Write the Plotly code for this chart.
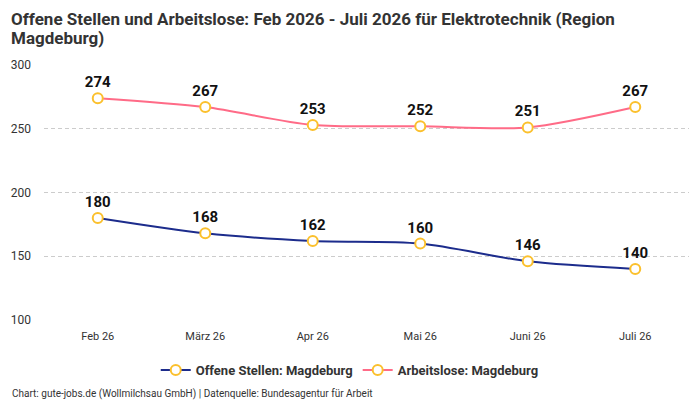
import plotly.graph_objects as go

# Monate und Werte
monate = ["Feb 26", "März 26", "Apr 26", "Mai 26", "Juni 26", "Juli 26"]
offene_stellen = [180, 168, 162, 160, 146, 140]
arbeitslose = [274, 267, 253, 252, 251, 267]

titel_zeilen = [
    "Offene Stellen und Arbeitslose: Feb 2026 - Juli 2026 für Elektrotechnik (Region",
    "Magdeburg)",
]
quelle = "Chart: gute-jobs.de (Wollmilchsau GmbH) | Datenquelle: Bundesagentur für Arbeit"

FONT = "Liberation Sans Narrow, Arial Narrow, Roboto"

fig = go.Figure()

fig.add_trace(go.Scatter(
    x=monate, y=offene_stellen,
    name="Offene Stellen: Magdeburg",
    mode="lines+markers+text",
    line=dict(color="#1c2c8c", width=2, shape="spline", smoothing=0.8),
    marker=dict(size=10, color="white", line=dict(color="#fbc02d", width=2)),
    text=[str(v) for v in offene_stellen],
    textposition="top center",
    textfont=dict(family=FONT, size=15, color="#111111", weight="bold"),
))

fig.add_trace(go.Scatter(
    x=monate, y=arbeitslose,
    name="Arbeitslose: Magdeburg",
    mode="lines+markers+text",
    line=dict(color="#ff6b87", width=2, shape="spline", smoothing=0.8),
    marker=dict(size=10, color="white", line=dict(color="#fbc02d", width=2)),
    text=[str(v) for v in arbeitslose],
    textposition="top center",
    textfont=dict(family=FONT, size=15, color="#111111", weight="bold"),
))

# die Seite hat 8px Rand, daher alles etwas nach links/oben
fig.update_layout(
    width=700, height=400,
    margin=dict(l=36, r=19, t=57, b=88, autoexpand=False),
    paper_bgcolor="white", plot_bgcolor="white",
    font=dict(family=FONT, size=12, color="#333333"),
    xaxis=dict(
        type="category", range=[-0.5, 5.5], automargin=False,
        showgrid=False, showline=False, zeroline=False,
        ticks="", ticklabelstandoff=8, tickfont=dict(size=11, color="#333333"),
    ),
    yaxis=dict(
        range=[100, 300], tickvals=[100, 150, 200, 250, 300], automargin=False,
        showgrid=True, gridcolor="#cccccc", griddash="4px,3px", gridwidth=1,
        zeroline=False, showline=False, ticks="", ticklabelstandoff=12,
        tickfont=dict(size=12, color="#333333"),
    ),
    legend=dict(
        orientation="h", x=0.474, xanchor="center", y=-0.196, yanchor="middle",
        font=dict(family=FONT, size=13, color="#333333", weight="bold"),
    ),
    showlegend=True,
)

# Titel in zwei Zeilen, damit der Zeilenabstand passt
for i, zeile in enumerate(titel_zeilen):
    fig.add_annotation(
        text=zeile, align="left", borderpad=0,
        xref="paper", yref="paper", x=-0.0527, y=1.2235 - i * 19 / 255,
        xanchor="left", yanchor="top",
        showarrow=False, font=dict(family=FONT, size=17, color="#333333", weight="bold"),
    )

fig.add_annotation(
    text=quelle,
    xref="paper", yref="paper", x=-0.0527, y=-0.29, xanchor="left", yanchor="middle",
    showarrow=False, font=dict(family=FONT, size=10, color="#333333"),
)

fig.write_html("out.html")
